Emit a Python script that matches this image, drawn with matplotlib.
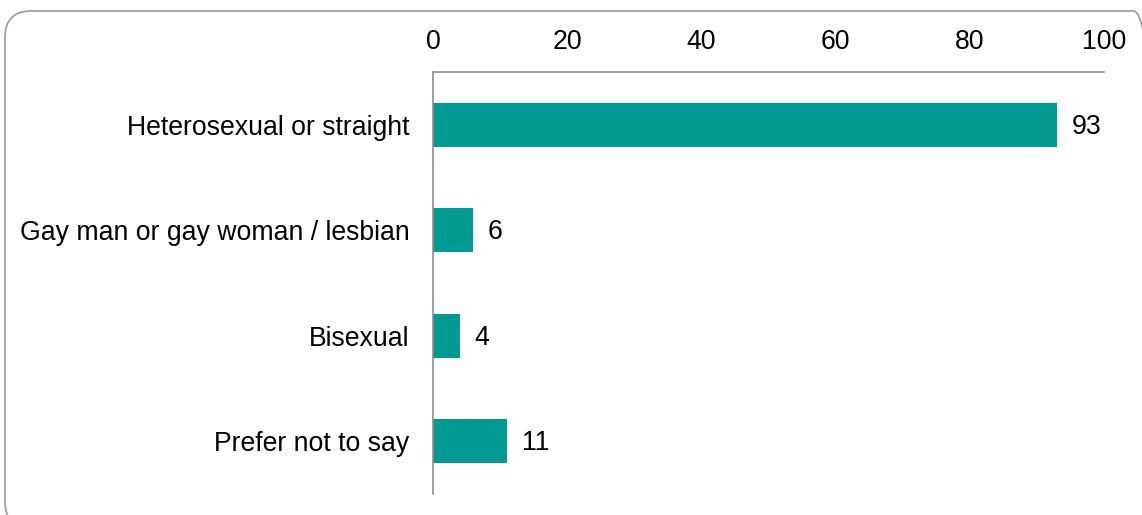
import matplotlib.pyplot as plt
from matplotlib.patches import FancyBboxPatch

categories = ['Heterosexual or straight', 'Gay man or gay woman / lesbian',
              'Bisexual', 'Prefer not to say']
values = [93, 6, 4, 11]
x_ticks = [0, 20, 40, 60, 80, 100]

bar_color = '#009A93'
axis_color = '#8C8C8C'
font_size = 19.2

plt.rcParams['font.family'] = ['Liberation Sans', 'DejaVu Sans']

fig = plt.figure(figsize=(11.42, 5.15), dpi=100)

# rounded frame around the whole chart (partly running off the right/bottom)
W, H = 1142., 515.
frame = FancyBboxPatch((5 / W, (H - 528) / H), (1160 - 5) / W, (528 - 11) / H,
                       boxstyle='round,pad=0,rounding_size=0.023',
                       transform=fig.transFigure, fill=False,
                       edgecolor='#A0A0A0', linewidth=1.3,
                       mutation_aspect=W / H)
fig.patches.append(frame)

ax = fig.add_axes([433 / W, 1 - 494 / H, (1104 - 433) / W, (494 - 72) / H])

pos = list(range(len(categories)))
ax.barh(pos, values, height=0.42, color=bar_color)

for p, v in zip(pos, values):
    ax.text(v + 2.2, p + 0.02, str(v), va='center', ha='left', fontsize=font_size)

ax.set_xlim(0, 100)
ax.set_ylim(len(categories) - 0.5, -0.5)
ax.set_xticks(x_ticks)
ax.set_yticks(pos)
ax.set_yticklabels(categories)
ax.xaxis.tick_top()
ax.tick_params(axis='x', length=0, pad=12, labelsize=font_size)
ax.tick_params(axis='y', length=0, pad=17, labelsize=font_size)

for side in ('right', 'bottom'):
    ax.spines[side].set_visible(False)
for side in ('top', 'left'):
    ax.spines[side].set_color(axis_color)
    ax.spines[side].set_linewidth(1.2)

fig.savefig('out.png', dpi=100)
